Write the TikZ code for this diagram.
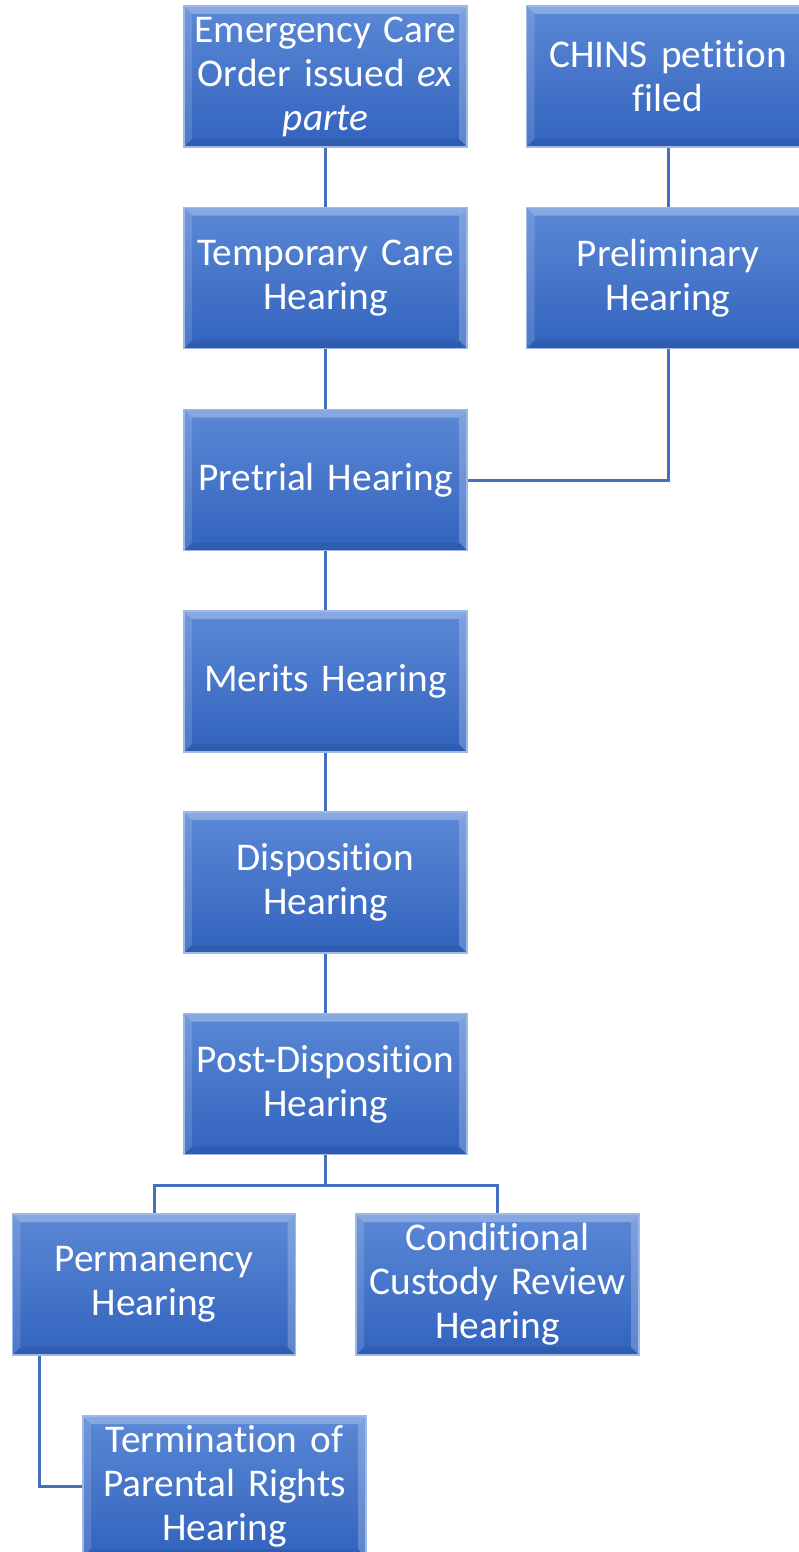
\documentclass[tikz,border=0pt]{standalone}
\usepackage{fontspec}
\setmainfont{Carlito}[Ligatures=NoCommon]
\usetikzlibrary{calc}
\definecolor{boxtop}{HTML}{5B88D6}
\definecolor{boxbot}{HTML}{3263BD}
\definecolor{edgec}{HTML}{9DB9EA}
\definecolor{linkc}{HTML}{4470BE}
\tikzset{
 box/.style={rectangle, minimum width=283pt, minimum height=141pt, text width=280pt, align=center,
   text=white, font=\fontsize{39.3}{44}\selectfont, top color=boxtop, bottom color=boxbot,
   draw=edgec, line width=1.5pt, inner sep=0pt,
   path picture={
     \fill[white,opacity=0.28] (path picture bounding box.north west) -- (path picture bounding box.north east)
        -- ($(path picture bounding box.north east)+(-8,8)$) -- ($(path picture bounding box.north west)+(8,8)$) -- cycle;
     \fill[white,opacity=0.14] (path picture bounding box.north west) -- ($(path picture bounding box.north west)+(8,8)$)
        -- ($(path picture bounding box.south west)+(8,-8)$) -- (path picture bounding box.south west) -- cycle;
     \fill[white,opacity=0.22] (path picture bounding box.north east) -- ($(path picture bounding box.north east)+(-8,8)$)
        -- ($(path picture bounding box.south east)+(-8,-8)$) -- (path picture bounding box.south east) -- cycle;
     \fill[black,opacity=0.08] (path picture bounding box.south west) -- ($(path picture bounding box.south west)+(8,-8)$)
        -- ($(path picture bounding box.south east)+(-8,-8)$) -- (path picture bounding box.south east) -- cycle;
   }},
 link/.style={draw=linkc, line width=3pt}
}
\begin{document}
\begin{tikzpicture}[x=1pt,y=-1pt]
\useasboundingbox (0,0) rectangle (799,1552);
\clip (0,0) rectangle (799,1552);
\node[box] (eco) at (325.5,76.5) {Emergency Care\\Order issued \emph{ex}\\\emph{parte}};
\node[box] (chins) at (668,76.5) {CHINS petition\\filed};
\node[box] (tch) at (325.5,278) {Temporary Care\\Hearing};
\node[box] (prel) at (668,278) {Preliminary\\Hearing};
\node[box] (pre) at (325.5,480) {Pretrial Hearing};
\node[box] (mer) at (325.5,681.5) {Merits Hearing};
\node[box] (dis) at (325.5,882.5) {Disposition\\Hearing};
\node[box] (post) at (325.5,1084) {Post-Disposition\\Hearing};
\node[box] (perm) at (154,1284.5) {Permanency\\Hearing};
\node[box] (cond) at (497.5,1284.5) {Conditional\\Custody Review\\Hearing};
\node[box] (term) at (224.5,1486.5) {Termination of\\Parental Rights\\Hearing};
\draw[link] (eco) -- (tch);
\draw[link] (tch) -- (pre);
\draw[link] (pre) -- (mer);
\draw[link] (mer) -- (dis);
\draw[link] (dis) -- (post);
\draw[link] (chins) -- (prel);
\draw[link] (prel.south) |- (pre.east);
\coordinate (j) at (325.5,1185);
\draw[link] (post.south) -- (j);
\draw[link] (perm.north) |- (j) -| (cond.north);
\draw[link] ($(perm.south west)+(28,0)$) |- (term.west);
\end{tikzpicture}
\end{document}
